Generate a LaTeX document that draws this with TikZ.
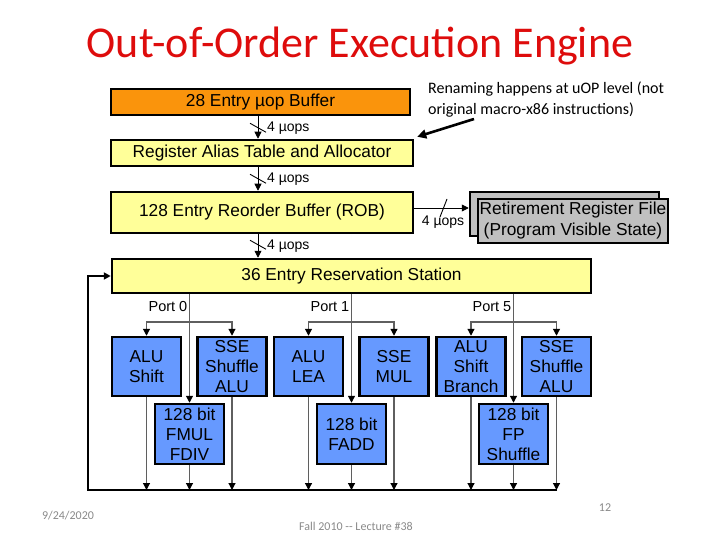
\documentclass[tikz,border=0pt]{standalone}
\usepackage{fontspec}
\setmainfont{Liberation Sans}
\newfontfamily\calfont{Carlito}
\usetikzlibrary{arrows.meta,calc}
\definecolor{ttlred}{RGB}{222,12,12}
\definecolor{orng}{RGB}{250,148,12}
\definecolor{ylw}{RGB}{255,255,153}
\definecolor{blu}{RGB}{102,153,255}
\definecolor{gry}{RGB}{192,192,192}
\definecolor{conn}{RGB}{95,95,95}
\definecolor{foot}{RGB}{137,137,137}
\tikzset{
  bigbox/.style={draw=black, line width=2.5pt, inner sep=0pt, align=center,
    font=\fontsize{17.3}{20}\selectfont},
  fu/.style={bigbox, fill=blu, minimum width=69pt},
  fuA/.style={fu, minimum height=59pt},
  fuB/.style={fu, minimum height=60pt},
  blkarr/.style={draw=black, line width=0.9pt, -{Triangle[length=7pt,width=7pt]}},
  grarr/.style={draw=conn, line width=1.2pt, -{Triangle[length=7pt,width=7pt,color=black]}},
  smalllbl/.style={font=\fontsize{14}{15}\selectfont, inner sep=0pt},
  portlbl/.style={font=\fontsize{14.5}{16}\selectfont, inner sep=0pt, anchor=east},
  footlbl/.style={font=\calfont\fontsize{12}{14}\selectfont, text=foot, inner sep=0pt}
}
\begin{document}
\begin{tikzpicture}[x=1pt,y=-1pt]
\useasboundingbox (0,0) rectangle (720,540);

% title
\node[font=\calfont\fontsize{44}{48}\selectfont, text=ttlred, inner sep=0pt] (title) at (360,46) {Out-of-Order Execution Engine};

% main pipeline boxes
\node[bigbox, fill=orng, minimum width=299pt, minimum height=26pt] (ubuf) at (260.5,102) {28 Entry µop Buffer};
\node[bigbox, fill=ylw, minimum width=302pt, minimum height=26pt] (rat) at (262,153) {Register Alias Table and Allocator};
\node[bigbox, fill=ylw, minimum width=302pt, minimum height=41pt] (rob) at (262,212.5) {128 Entry Reorder Buffer (ROB)};
\node[bigbox, fill=ylw, minimum width=479pt, minimum height=34pt] (rs) at (351.5,276) {36 Entry Reservation Station};

% retirement register file (stacked)
\node[bigbox, fill=gry, minimum width=189pt, minimum height=44pt] (rrfb) at (564.5,214) {};
\node[bigbox, fill=gry, minimum width=190pt, minimum height=44pt, font=\fontsize{17.3}{21}\selectfont] (rrf) at (573,221) {Retirement Register File\\(Program Visible State)};

% annotation
\node[font=\calfont\fontsize{16}{21}\selectfont, align=left, anchor=north west, inner sep=0pt] (note) at (428,82) {Renaming happens at uOP level (not\\original macro-x86 instructions)};
\coordinate (notetail) at (474,119);
\draw[line width=2.6pt, -{Triangle[length=9pt,width=9pt]}] (notetail) -- ($(rat.north east)+(3,-2)$);

% vertical 4 uops arrows
\coordinate (a1) at ($(ubuf.south)+(-2.5,0)$);
\draw[blkarr] (a1) -- (a1 |- rat.north);
\draw[black, line width=0.9pt] ($(a1)+(-8,7)$) -- ($(a1)+(8,16)$);
\node[smalllbl, anchor=west] (l1) at (267,128) {4 µops};

\coordinate (a2) at ($(rat.south)+(-4,0)$);
\draw[blkarr] (a2) -- (a2 |- rob.north);
\draw[black, line width=0.9pt] ($(a2)+(-8,7)$) -- ($(a2)+(8,16)$);
\node[smalllbl, anchor=west] (l2) at (267,179) {4 µops};

\coordinate (a3) at ($(rob.south)+(-4,0)$);
\draw[blkarr] (a3) -- (a3 |- rs.north);
\draw[black, line width=0.9pt] ($(a3)+(-8,6)$) -- ($(a3)+(8,15)$);
\node[smalllbl, anchor=west] (l3) at (267,246) {4 µops};

% ROB -> RRF
\coordinate (a4) at ($(rob.east)+(0,-4.5)$);
\draw[blkarr] (a4) -- (a4 -| rrfb.west);
\draw[black, line width=0.9pt] (440,217) -- (447,199);
\node[smalllbl] (l4) at (443,222) {4 µops};

% functional units
\node[fuA] (alush) at (146.5,366.5) {ALU\\Shift};
\node[fuA] (sse0) at (232,366.5) {SSE\\Shuffle\\ALU};
\node[fuA] (alulea) at (308.5,366.5) {ALU\\LEA};
\node[fuA] (ssemul) at (394,366.5) {SSE\\MUL};
\node[fuA] (alubr) at (471,366.5) {ALU\\Shift\\Branch};
\node[fuA] (sse5) at (556.5,366.5) {SSE\\Shuffle\\ALU};
\node[fuB] (fmul) at (189.5,434) {128 bit\\FMUL\\FDIV};
\node[fuB] (fadd) at (351.5,434) {128 bit\\FADD};
\node[fuB] (fpsh) at (513.5,434) {128 bit\\FP\\Shuffle};

% ports
\draw[grarr] (rs.south -| fmul.north) -- (fmul.north);
\draw[grarr] (rs.south -| fadd.north) -- (fadd.north);
\draw[grarr] (rs.south -| fpsh.north) -- (fpsh.north);
\coordinate (b0) at (189.5,322);
\coordinate (b1) at (351.5,322);
\coordinate (b5) at (513.5,322);
\draw[grarr] (b0) -| (alush.north);
\draw[grarr] (b0) -| (sse0.north);
\draw[grarr] (b1) -| (alulea.north);
\draw[grarr] (b1) -| (ssemul.north);
\draw[grarr] (b5) -| (alubr.north);
\draw[grarr] (b5) -| (sse5.north);
\node[portlbl] (p0) at (187.5,307) {Port 0};
\node[portlbl] (p1) at (349.5,307) {Port 1};
\node[portlbl] (p5) at (511.5,307) {Port 5};

% writeback bus
\coordinate (bl) at (88,490);
\coordinate (br) at (557,490);
\foreach \n in {alush,fmul,sse0,alulea,fadd,ssemul,alubr,fpsh,sse5}
  \draw[grarr] (\n.south) -- (\n.south |- bl);
\draw[line width=2.6pt, -{Triangle[length=7pt,width=7pt]}] (br) -- (bl) |- (rs.west);

% footer
\node[footlbl] (date) at (68,516) {9/24/2020};
\node[footlbl] (lect) at (356,526) {Fall 2010 -- Lecture \#38};
\node[footlbl] (pg) at (605,508) {12};
\end{tikzpicture}
\end{document}
